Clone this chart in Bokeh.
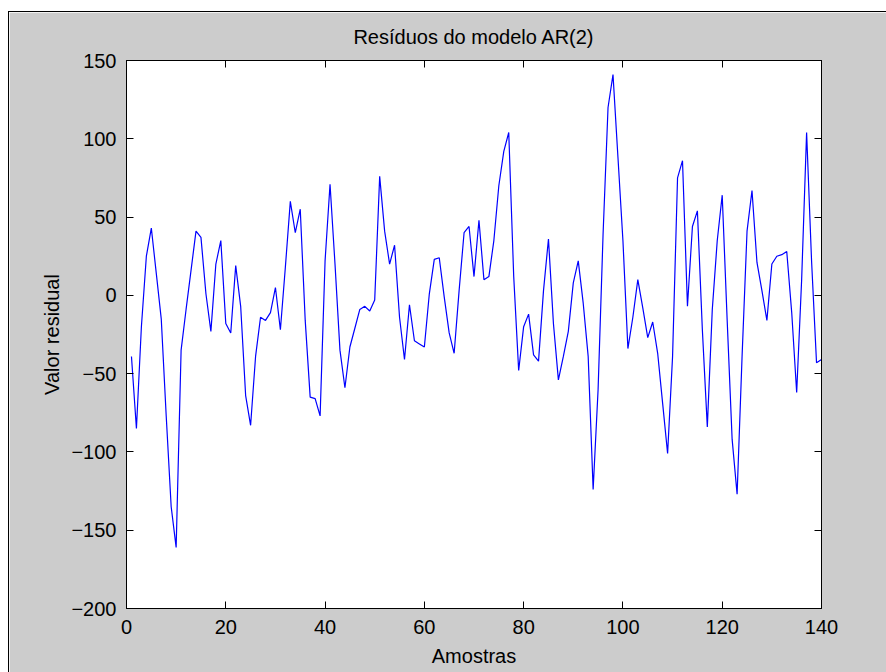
from bokeh.plotting import figure
from bokeh.models import Range1d, LinearAxis, FixedTicker
from bokeh.embed import file_html
from bokeh.resources import INLINE

# Data
amostras = list(range(1, 141))
residuos = [
    -39, -85, -20, 25, 43, 14, -15, -77, -135, -161,
    -35, -9, 16, 41, 37, 1, -23, 20, 35, -18,
    -24, 19, -7, -64, -83, -39, -14, -16, -11, 5,
    -22, 18, 60, 40, 55, -16, -65, -66, -77, 22,
    71, 20, -35, -59, -33, -21, -9, -7, -10, -3,
    76, 41, 20, 32, -14, -41, -6, -29, -31, -33,
    1, 23, 24, -1, -24, -37, 3, 40, 44, 12,
    48, 10, 12, 35, 70, 92, 104, 12, -48, -20,
    -12, -38, -42, 3, 36, -18, -54, -39, -23, 8,
    22, -5, -39, -124, -60, 39, 120, 141, 88, 35,
    -34, -14, 10, -8, -27, -17, -37, -69, -101, -39,
    75, 86, -7, 44, 54, -22, -84, -9, 35, 64,
    -16, -92, -127, -39, 41, 67, 21, 3, -16, 20,
    25, 26, 28, -11, -62, 10, 104, 22, -43, -41,
]
x_ticks = [0, 20, 40, 60, 80, 100, 120, 140]
y_ticks = [-200, -150, -100, -50, 0, 50, 100, 150]

titulo = "Resíduos do modelo AR(2)"
rotulo_x = "Amostras"
rotulo_y = "Valor residual"

FONT = "Liberation Sans"
GRAY = "#cccccc"

p = figure(
    width=878, height=661,
    output_backend="svg", toolbar_location=None,
    x_range=Range1d(0, 140), y_range=Range1d(-200, 150),
    min_border_left=117, min_border_right=66,
    min_border_top=48, min_border_bottom=65,
    background_fill_color="white", border_fill_color=GRAY,
    title=titulo,
)
p.margin = (11, 0, 0, 8)
p.styles = {"border-left": "1px solid black", "border-top": "1px solid black"}

p.title.align = "center"
p.title.vertical_align = "top"
p.title.text_font = FONT
p.title.text_font_size = "20px"
p.title.text_font_style = "normal"
p.title.text_color = "black"
p.title.standoff = 21

p.grid.visible = False
p.outline_line_color = "black"

p.line(amostras, residuos, line_color="#0000ff", line_width=1.2)

for ax in p.xaxis:
    ax.ticker = FixedTicker(ticks=x_ticks)
for ax in p.yaxis:
    ax.ticker = FixedTicker(ticks=y_ticks)

p.xaxis.axis_label = rotulo_x
p.yaxis.axis_label = rotulo_y

for ax in list(p.xaxis) + list(p.yaxis):
    ax.major_tick_in = 7
    ax.major_tick_out = 0
    ax.minor_tick_line_color = None
    ax.axis_line_color = "black"
    ax.major_tick_line_color = "black"
    ax.major_label_text_font = FONT
    ax.major_label_text_font_size = "20px"
    ax.major_label_text_color = "black"
    ax.axis_label_text_font = FONT
    ax.axis_label_text_font_size = "20px"
    ax.axis_label_text_font_style = "normal"
    ax.axis_label_text_color = "black"

p.xaxis.major_label_standoff = 11
p.yaxis.major_label_standoff = 10
p.xaxis.axis_label_standoff = 8
p.yaxis.axis_label_standoff = 5

# mirrored axes (top and right) with ticks only
top = LinearAxis(ticker=FixedTicker(ticks=x_ticks), major_label_text_color=None,
                 major_tick_in=7, major_tick_out=0, minor_tick_line_color=None,
                 axis_line_color="black", major_tick_line_color="black")
right = LinearAxis(ticker=FixedTicker(ticks=y_ticks), major_label_text_color=None,
                   major_tick_in=7, major_tick_out=0, minor_tick_line_color=None,
                   axis_line_color="black", major_tick_line_color="black")
top.major_label_text_font_size = "1px"
right.major_label_text_font_size = "1px"
p.add_layout(top, "above")
p.add_layout(right, "right")

open("out.html", "w").write(file_html(p, INLINE))
